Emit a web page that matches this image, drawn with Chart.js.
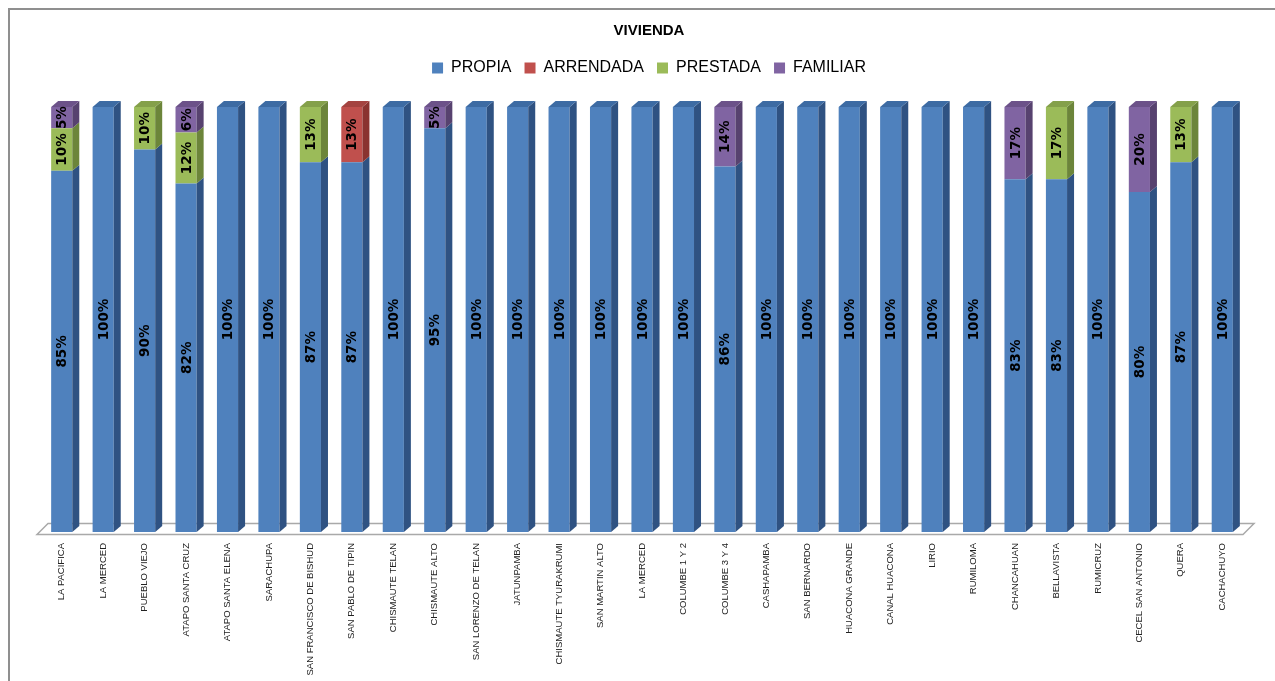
<!DOCTYPE html>
<html>
<head>
<meta charset="utf-8">
<script src="https://cdn.jsdelivr.net/npm/chart.js@4.4.1/dist/chart.umd.min.js"></script>
<style>
  html, body { margin: 0; padding: 0; background: #fff; overflow: hidden; }
  #wrap { position: relative; width: 1275px; height: 681px; }
  #frame { position: absolute; left: 8px; top: 8px; width: 1300px; height: 700px;
           border-left: 2px solid #8f8f8f; border-top: 2px solid #8f8f8f; pointer-events: none; }
</style>
</head>
<body>
<div id="wrap">
  <canvas id="viviendaChart"></canvas>
  <div id="frame"></div>
</div>
<script>
// Comunidades
const comunidades = [
    'LA PACIFICA', 'LA MERCED', 'PUEBLO VIEJO', 'ATAPO SANTA CRUZ', 'ATAPO SANTA ELENA',
    'SARACHUPA', 'SAN FRANCISCO DE BISHUD', 'SAN PABLO DE TIPIN', 'CHISMAUTE TELAN', 'CHISMAUTE ALTO',
    'SAN LORENZO DE TELAN', 'JATUNPAMBA', 'CHISMAUTE TYURAKRUMI', 'SAN MARTIN ALTO', 'LA MERCED',
    'COLUMBE 1 Y 2', 'COLUMBE 3 Y 4', 'CASHAPAMBA', 'SAN BERNARDO', 'HUACONA GRANDE',
    'CANAL HUACONA', 'LIRIO', 'RUMILOMA', 'CHANCAHUAN', 'BELLAVISTA',
    'RUMICRUZ', 'CECEL SAN ANTONIO', 'QUERA', 'CACHACHUYO'
];

// Porcentajes por tipo de vivienda
const propia     = [85, 100, 90, 82, 100, 100, 87, 87, 100, 95, 100, 100, 100, 100, 100, 100, 86, 100, 100, 100, 100, 100, 100, 83, 83, 100, 80, 87, 100];
const arrendada  = [0, 0, 0, 0, 0, 0, 0, 13, 0, 0, 0, 0, 0, 0, 0, 0, 0, 0, 0, 0, 0, 0, 0, 0, 0, 0, 0, 0, 0];
const prestada   = [10, 0, 10, 12, 0, 0, 13, 0, 0, 0, 0, 0, 0, 0, 0, 0, 0, 0, 0, 0, 0, 0, 0, 0, 17, 0, 0, 13, 0];
const familiar   = [5, 0, 0, 6, 0, 0, 0, 0, 0, 5, 0, 0, 0, 0, 0, 0, 14, 0, 0, 0, 0, 0, 0, 17, 0, 0, 20, 0, 0];

// Colores: frente, lado, tapa
const colores = {
    PROPIA:    ['#4F81BD', '#2F5282', '#3D6BA3'],
    ARRENDADA: ['#C0504D', '#8A3330', '#A44340'],
    PRESTADA:  ['#9BBB59', '#6C853A', '#84A04A'],
    FAMILIAR:  ['#8064A2', '#57426F', '#6C5289']
};

const DX = 7, DY = 6;

// Dibuja piso, caras laterales y etiquetas (efecto 3D)
const tresD = {
    id: 'tresD',
    beforeDatasetsDraw(chart) {
        const ctx = chart.ctx, a = chart.chartArea;
        ctx.save();
        ctx.beginPath();
        ctx.moveTo(a.left - 4, a.bottom + 2.5);
        ctx.lineTo(a.right, a.bottom + 2.5);
        ctx.lineTo(a.right + 11, a.bottom - 8.5);
        ctx.lineTo(a.left + 7, a.bottom - 8.5);
        ctx.closePath();
        ctx.fillStyle = '#ffffff';
        ctx.fill();
        ctx.strokeStyle = '#a9a9a9';
        ctx.lineWidth = 1.5;
        ctx.stroke();
        ctx.restore();
    },
    afterDatasetsDraw(chart) {
        const ctx = chart.ctx;
        const n = chart.data.labels.length;
        ctx.save();
        for (let j = 0; j < n; j++) {
            let topEl = null, topDs = null;
            chart.data.datasets.forEach((ds, i) => {
                if (!ds.data[j]) return;
                const el = chart.getDatasetMeta(i).data[j];
                const r = el.x + el.width / 2;
                ctx.beginPath();
                ctx.moveTo(r, el.y);
                ctx.lineTo(r + DX, el.y - DY);
                ctx.lineTo(r + DX, el.base - DY);
                ctx.lineTo(r, el.base);
                ctx.closePath();
                ctx.fillStyle = colores[ds.label][1];
                ctx.fill();
                topEl = el; topDs = ds;
            });
            if (topEl) {
                const l = topEl.x - topEl.width / 2, r = topEl.x + topEl.width / 2;
                ctx.beginPath();
                ctx.moveTo(l, topEl.y);
                ctx.lineTo(l + DX, topEl.y - DY);
                ctx.lineTo(r + DX, topEl.y - DY);
                ctx.lineTo(r, topEl.y);
                ctx.closePath();
                ctx.fillStyle = colores[topDs.label][2];
                ctx.fill();
            }
        }
        // Etiquetas de porcentaje
        ctx.font = 'bold 13.5px "DejaVu Sans", sans-serif';
        ctx.fillStyle = '#000';
        ctx.textAlign = 'center';
        ctx.textBaseline = 'middle';
        chart.data.datasets.forEach((ds, i) => {
            chart.getDatasetMeta(i).data.forEach((el, j) => {
                if (!ds.data[j]) return;
                ctx.save();
                ctx.translate(el.x, (el.y + el.base) / 2);
                ctx.rotate(-Math.PI / 2);
                ctx.fillText(ds.data[j] + '%', 0, 1);
                ctx.restore();
            });
        });
        ctx.restore();
    }
};

const ctx = document.getElementById('viviendaChart').getContext('2d');
window.viviendaChartInstance = new Chart(ctx, {
    type: 'bar',
    data: {
        labels: comunidades,
        datasets: [
            { label: 'PROPIA', data: propia, backgroundColor: colores.PROPIA[0] },
            { label: 'ARRENDADA', data: arrendada, backgroundColor: colores.ARRENDADA[0] },
            { label: 'PRESTADA', data: prestada, backgroundColor: colores.PRESTADA[0] },
            { label: 'FAMILIAR', data: familiar, backgroundColor: colores.FAMILIAR[0] }
        ]
    },
    options: {
        responsive: true,
        maintainAspectRatio: false,
        animation: false,
        layout: { padding: { left: 41, right: 18, top: 12, bottom: 0 } },
        datasets: { bar: { categoryPercentage: 1, barPercentage: 0.51 } },
        plugins: {
            title: {
                display: true,
                text: 'VIVIENDA',
                color: '#000',
                font: { family: 'Liberation Sans', size: 15, weight: 'bold' },
                padding: { top: 10, bottom: 7 }
            },
            // espacio vacio bajo la leyenda
            subtitle: {
                display: true,
                text: '',
                weight: 500,
                font: { size: 1, lineHeight: 1 },
                padding: { top: 20, bottom: 0 }
            },
            legend: {
                position: 'top',
                labels: {
                    boxWidth: 11,
                    boxHeight: 11,
                    padding: 13,
                    color: '#000',
                    font: { family: 'Liberation Sans', size: 16 }
                }
            },
            tooltip: { enabled: false }
        },
        scales: {
            x: {
                stacked: true,
                grid: { display: false, drawTicks: false },
                border: { display: false },
                afterFit: s => { s.height = 149; },
                ticks: {
                    autoSkip: false,
                    maxRotation: 90,
                    minRotation: 90,
                    padding: 11,
                    color: '#222',
                    font: { family: 'Liberation Sans', size: 9.5 }
                }
            },
            y: {
                stacked: true,
                display: false,
                min: 0,
                max: 100
            },
            // eje vacio a la derecha, solo reserva espacio para la profundidad
            yDer: {
                position: 'right',
                grid: { display: false },
                border: { display: false },
                ticks: { display: false },
                afterFit: s => { s.width = 14; }
            }
        }
    },
    plugins: [tresD]
});
</script>
</body>
</html>
